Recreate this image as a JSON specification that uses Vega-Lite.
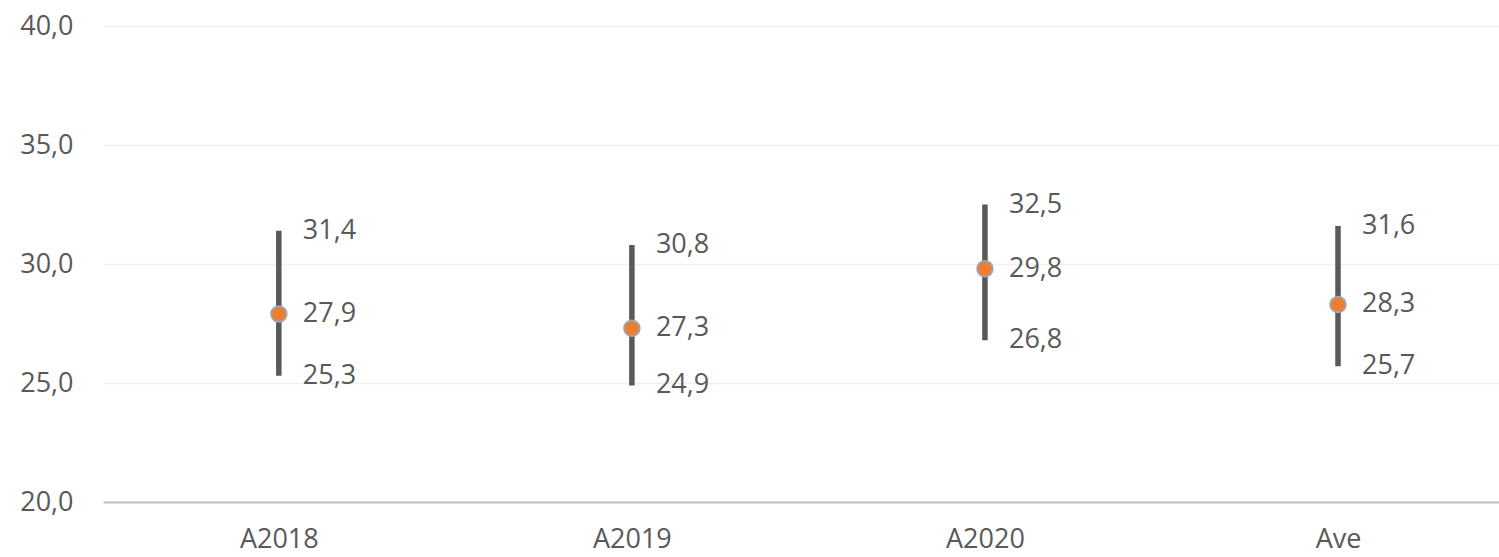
{
  "$schema": "https://vega.github.io/schema/vega-lite/v6.json",
  "autosize": {"type": "none"},
  "width": 1396,
  "height": 476,
  "padding": {"left": 103, "top": 26, "right": 0, "bottom": 55},
  "background": "white",
  "config": {
    "view": {"stroke": null},
    "font": "Open Sans",
    "locale": {"number": {"decimal": ",", "thousands": ".", "grouping": [3], "currency": ["", " €"]}}
  },
  "data": {
    "values": [
      {"cat": "A2018", "min": 25.3, "mid": 27.9, "max": 31.4},
      {"cat": "A2019", "min": 24.9, "mid": 27.3, "max": 30.8},
      {"cat": "A2020", "min": 26.8, "mid": 29.8, "max": 32.5},
      {"cat": "Ave", "min": 25.7, "mid": 28.3, "max": 31.6}
    ]
  },
  "encoding": {
    "x": {
      "field": "cat", "type": "nominal", "sort": null, "title": null,
      "scale": {"type": "point", "padding": 0.477, "align": 0.522},
      "axis": {"labelAngle": 0, "labelFontSize": 27, "labelColor": "#595959", "labelPadding": 24, "ticks": false, "domainColor": "#BFBFBF", "domainWidth": 2, "grid": false}
    }
  },
  "layer": [
    {
      "mark": {"type": "rule", "color": "#595959", "strokeWidth": 5.5},
      "encoding": {
        "y": {
          "field": "min", "type": "quantitative", "title": null,
          "scale": {"domain": [20, 40], "nice": false, "zero": false},
          "axis": {"values": [20, 25, 30, 35, 40], "format": ".1f", "labelFontSize": 27, "labelColor": "#595959", "labelPadding": 30, "ticks": false, "domain": false, "gridColor": "#F0F0F0", "gridWidth": 1.5}
        },
        "y2": {"field": "max"}
      }
    },
    {
      "mark": {"type": "point", "filled": true, "fill": "#ED7D31", "stroke": "#A5A5A5", "strokeWidth": 2, "size": 240, "opacity": 1},
      "encoding": {"y": {"field": "mid", "type": "quantitative"}}
    },
    {
      "mark": {"type": "text", "align": "left", "baseline": "middle", "dx": 24, "fontSize": 27, "color": "#595959"},
      "encoding": {"y": {"field": "mid", "type": "quantitative"}, "text": {"field": "mid", "type": "quantitative", "format": ".1f"}}
    },
    {
      "mark": {"type": "text", "align": "left", "baseline": "middle", "dx": 24, "fontSize": 27, "color": "#595959"},
      "encoding": {"y": {"field": "min", "type": "quantitative"}, "text": {"field": "min", "type": "quantitative", "format": ".1f"}}
    },
    {
      "mark": {"type": "text", "align": "left", "baseline": "middle", "dx": 24, "fontSize": 27, "color": "#595959"},
      "encoding": {"y": {"field": "max", "type": "quantitative"}, "text": {"field": "max", "type": "quantitative", "format": ".1f"}}
    }
  ]
}
